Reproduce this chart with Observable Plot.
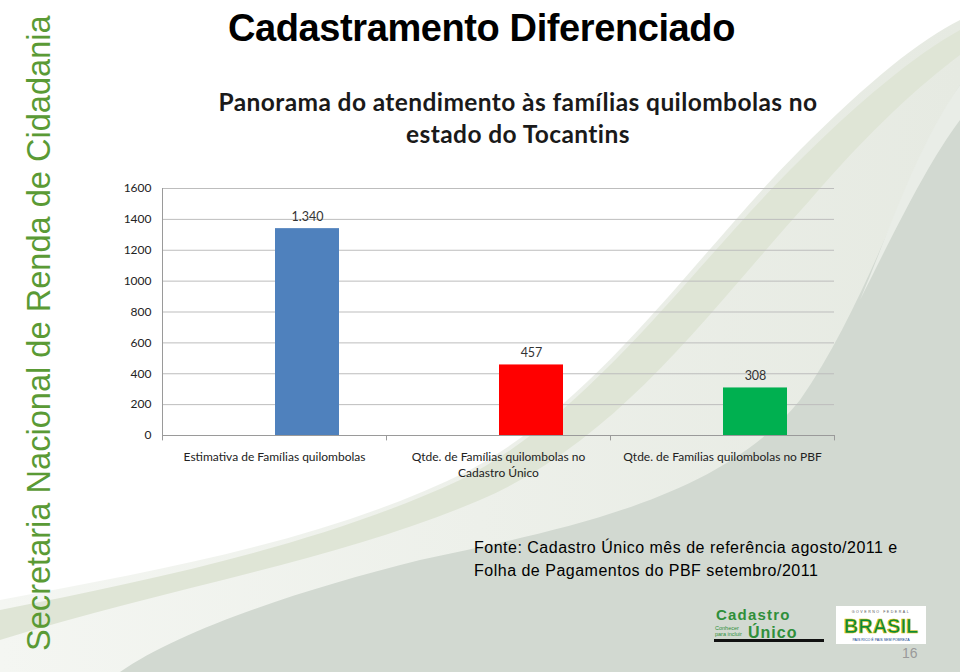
<!DOCTYPE html>
<html>
<head>
<meta charset="utf-8">
<script src="https://cdn.jsdelivr.net/npm/d3@7"></script>
<script src="https://cdn.jsdelivr.net/npm/@observablehq/plot@0.6"></script>
<style>
  html, body { margin: 0; padding: 0; }
  body { width: 960px; height: 672px; position: relative; overflow: hidden; background: #ffffff; font-family: "Liberation Sans", Arial, sans-serif; }
  #bg { position: absolute; left: 0; top: 0; }
  #side { position: absolute; left: 21.5px; top: 651px; transform-origin: 0 0; transform: rotate(-90deg); font-family: "Liberation Sans", Arial, sans-serif; font-size: 32.6px; line-height: 34px; color: #5a9a35; white-space: nowrap; }
  #title { position: absolute; left: 228px; top: 8px; font-family: "Liberation Sans", Arial, sans-serif; font-weight: bold; font-size: 38px; line-height: 40px; color: #000; letter-spacing: -0.4px; white-space: nowrap; }
  #ctitle { position: absolute; left: 160px; width: 716px; top: 86px; text-align: center; font-family: Lato, "Open Sans", sans-serif; font-weight: bold; font-size: 24.5px; letter-spacing: 0.4px; line-height: 32px; color: #1a1a1a; }
  #chart { position: absolute; left: 0; top: 170px; }
  #source { position: absolute; left: 474px; top: 536px; font-family: "Liberation Sans", Arial, sans-serif; font-size: 16px; line-height: 23px; color: #000; letter-spacing: 0.5px; white-space: nowrap; }
  #logo1 { position: absolute; left: 714px; top: 606px; width: 110px; height: 36px; }
  #logo2 { position: absolute; left: 836px; top: 606px; width: 90px; height: 38px; }
  #page { position: absolute; left: 902px; top: 645px; font-size: 14px; color: #9a9a9a; font-family: "Liberation Sans", Arial, sans-serif; }
</style>
</head>
<body>
<svg id="bg" width="960" height="672">
  <defs>
    <linearGradient id="g1" x1="0" y1="0" x2="1" y2="0">
      <stop offset="0" stop-color="#f4f6f2"/>
      <stop offset="1" stop-color="#e6eae2"/>
    </linearGradient>
  </defs>
  <path d="M0,672 L0,600 C160,570 330,540 470,470 C600,400 700,250 800,150 C870,80 920,40 960,20 L960,672 Z" fill="url(#g1)"/>
  <path d="M0,610 C150,580 320,545 460,480 C590,415 690,270 790,170 C860,100 915,55 960,30 L960,55 C920,85 870,130 810,200 C710,310 620,440 480,500 C340,560 160,590 0,640 Z" fill="#dfe5d6"/>
  <path d="M960,85 C910,160 870,300 800,400 C720,500 560,530 420,560 C300,590 180,630 120,672 L960,672 Z" fill="#d2d9d1"/>
  <path d="M960,85 C915,150 890,230 860,300 C900,220 930,160 960,120 Z" fill="#e9ede7"/>
</svg>
<div id="side">Secretaria Nacional de Renda de Cidadania</div>
<div id="title">Cadastramento Diferenciado</div>
<div id="ctitle">Panorama do atendimento às famílias quilombolas no<br>estado do Tocantins</div>
<div id="chart"></div>
<div id="source">Fonte: Cadastro Único mês de referência agosto/2011 e<br>Folha de Pagamentos do PBF setembro/2011</div>
<svg id="logo1" viewBox="0 0 110 36">
  <text x="2" y="14" font-family="Liberation Sans, Arial" font-weight="bold" font-size="15" fill="#2f8f3a" letter-spacing="1.2">Cadastro</text>
  <text x="1" y="23.5" font-family="Liberation Sans, Arial" font-size="5.5" fill="#2f8f3a">Conhecer</text>
  <text x="1" y="29.5" font-family="Liberation Sans, Arial" font-size="5.5" fill="#2f8f3a">para incluir</text>
  <text x="34" y="31.5" font-family="Liberation Sans, Arial" font-weight="bold" font-size="16" fill="#2f8f3a" letter-spacing="1">Único</text>
  <rect x="0" y="33" width="110" height="3" fill="#111"/>
</svg>
<svg id="logo2" viewBox="0 0 90 38">
  <rect x="0" y="0" width="90" height="38" fill="#fff"/>
  <text x="45" y="7" text-anchor="middle" font-family="Liberation Sans, Arial" font-size="3.6" fill="#555" letter-spacing="1.5">GOVERNO FEDERAL</text>
  <text x="45" y="27" text-anchor="middle" font-family="Liberation Sans, Arial" font-weight="bold" font-size="20" fill="#0a8a3a" stroke="#e2c400" stroke-width="0.6">BRASIL</text>
  <text x="45" y="34.5" text-anchor="middle" font-family="Liberation Sans, Arial" font-size="3.6" fill="#0a3a8a">PAÍS RICO É PAÍS SEM POBREZA</text>
</svg>
<div id="page">16</div>
<script>
const categories = [
  "Estimativa de Famílias quilombolas",
  "Qtde. de Famílias quilombolas no Cadastro Único",
  "Qtde. de Famílias quilombolas no PBF"
];
const tickLabels = [
  "Estimativa de Famílias quilombolas",
  "Qtde. de Famílias quilombolas no\nCadastro Único",
  "Qtde. de Famílias quilombolas no PBF"
];
const values = [1340, 457, 308];
const colors = ["#4f81bd", "#ff0000", "#00b050"];
const yTicks = [0, 200, 400, 600, 800, 1000, 1200, 1400, 1600];

const data = categories.map((c, i) => ({category: c, value: values[i], color: colors[i]}));
const labelOf = new Map(categories.map((c, i) => [c, tickLabels[i]]));
const ptBR = d3.formatLocale({decimal: ",", thousands: ".", grouping: [3], currency: ["R$", ""]});
const fmt = ptBR.format(",d");

const W = 960, mL = 162, mR = 126;
const step = (W - mL - mR) / categories.length;
const barW = 64;
const barShift = 33; // bars sit right of their band centre, as in the original

const chart = Plot.plot({
  width: W,
  height: 318,
  marginLeft: mL,
  marginRight: mR,
  marginTop: 18,
  marginBottom: 53,
  style: {fontFamily: "Lato, 'Open Sans', sans-serif", fontSize: "12px", color: "#333", background: "transparent", overflow: "visible"},
  x: {domain: categories, paddingInner: 1 - barW / step, paddingOuter: (1 - barW / step) / 2, label: null},
  y: {domain: [0, 1600], label: null},
  marks: [
    Plot.ruleY(yTicks.filter(d => d > 0), {stroke: "#bdbdbd", strokeWidth: 1}),
    Plot.barY(data, {x: "category", y: "value", fill: "color", dx: barShift}),
    Plot.ruleY([0], {stroke: "#9a9a9a", strokeWidth: 1}),
    Plot.ruleX([categories[0]], {y1: 0, y2: 1600, dx: -step / 2, stroke: "#9a9a9a"}),
    Plot.ruleX(categories, {y1: 0, y2: -35, dx: -step / 2, stroke: "#9a9a9a"}),
    Plot.ruleX([categories[categories.length - 1]], {y1: 0, y2: -35, dx: step / 2, stroke: "#9a9a9a"}),
    Plot.text(data, {x: "category", y: "value", text: d => fmt(d.value), lineAnchor: "bottom", dy: -8, dx: barShift, fill: "#333", fontSize: 12.5}),
    Plot.axisY({ticks: yTicks, tickFormat: d => String(d), tickSize: 0, tickPadding: 11, fontSize: 12, fill: "#222"}),
    Plot.axisX({tickSize: 0, tickPadding: 14, tickFormat: d => labelOf.get(d), fontSize: 12, fill: "#222", lineHeight: 1.35})
  ]
});
document.getElementById("chart").appendChild(chart);
</script>
</body>
</html>
